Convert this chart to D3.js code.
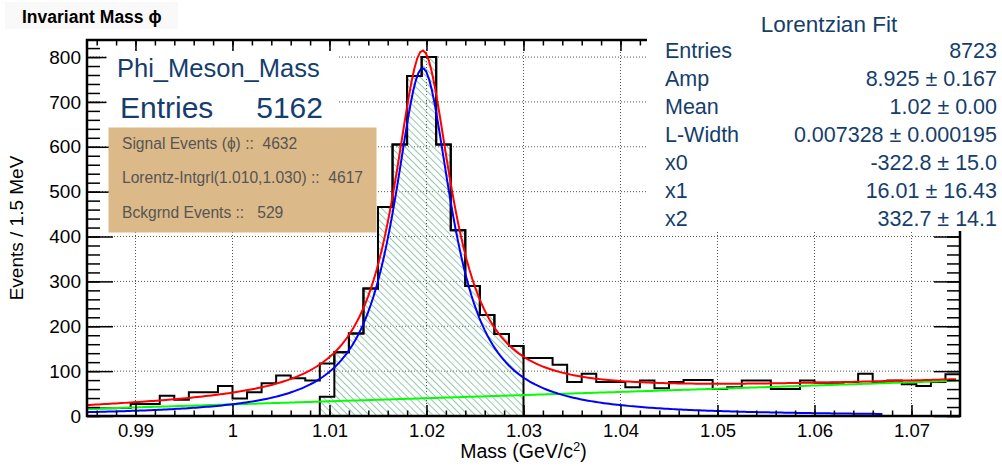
<!DOCTYPE html>
<html>
<head>
<meta charset="utf-8">
<script src="https://cdn.jsdelivr.net/npm/d3@7"></script>
<style>
  body { margin: 0; background: #fff; }
  text { font-family: "Liberation Sans", Arial, Helvetica, sans-serif; white-space: pre; }
</style>
</head>
<body>
<svg id="chart" width="1002" height="466"></svg>
<script>
// ---- histogram: 60 bins of 1.5 MeV from 0.985 to 1.075 GeV/c^2 ----
const binLow = 0.985;
const binWidth = 0.0015;
const counts = [
  17, 17, 18, 27, 27, 45, 36, 53, 53, 67,
  39, 53, 73, 90, 84, 79, 117, 142, 184, 284,
  466, 605, 758, 800, 605, 414, 290, 225, 183, 156,
  129, 129, 114, 76, 94, 76, 76, 64, 79, 62,
  76, 80, 80, 60, 64, 79, 79, 60, 60, 79,
  74, 74, 76, 94, 76, 79, 71, 67, 76, 93
];
// signal window histogram (hatched), starting at bin 16
const signalFirstBin = 16;
const signalCounts = [43, 142, 184, 284, 466, 605, 758, 800, 605, 414, 290, 225, 183, 156];

// ---- fit: Lorentzian (Breit-Wigner) + 2nd order polynomial background ----
const fitAmp = 8.925;
const fitMean = 1.0196;
const fitWidth = 0.007328;
const bgCoeffs = [-322.8, 16.01, 332.7];
const signalCurveEnd = 1.067;

// ---- axes ----
const xDomain = [0.985, 1.075];
const yDomain = [0, 838];
const xTicks = [0.99, 1.00, 1.01, 1.02, 1.03, 1.04, 1.05, 1.06, 1.07];
const xTickLabels = ["0.99", "1", "1.01", "1.02", "1.03", "1.04", "1.05", "1.06", "1.07"];
const yTicks = [0, 100, 200, 300, 400, 500, 600, 700, 800];
const yTickLabels = ["0", "100", "200", "300", "400", "500", "600", "700", "800"];

// ---- text panels ----
const titleText = "Invariant Mass \u03D5";
const histName = "Phi_Meson_Mass";
const histEntries = "5162";
const infoLines = [
  "Signal Events (\u03D5) ::  4632",
  "Lorentz-Intgrl(1.010,1.030) ::  4617",
  "Bckgrnd Events ::   529"
];
const statsTitle = "Lorentzian Fit";
const statsLabels = ["Entries", "Amp", "Mean", "L-Width", "x0", "x1", "x2"];
const statsValues = ["8723", "8.925 \u00B1 0.167", "1.02 \u00B1 0.00", "0.007328 \u00B1 0.000195",
                     "-322.8 \u00B1 15.0", "16.01 \u00B1 16.43", "332.7 \u00B1 14.1"];

const svg = d3.select("#chart");
const x = d3.scaleLinear().domain(xDomain).range([87, 960]);
const y = d3.scaleLinear().domain(yDomain).range([416, 40]);
const [xl, xr] = x.range();
const [yb, yt] = y.range();

// hatch pattern for the signal window
const defs = svg.append("defs");
defs.append("pattern")
  .attr("id", "hatch")
  .attr("patternUnits", "userSpaceOnUse")
  .attr("width", 5).attr("height", 5)
  .attr("patternTransform", "rotate(-45)")
  .append("line")
  .attr("x1", 2.5).attr("x2", 2.5).attr("y1", 0).attr("y2", 5)
  .attr("stroke", "#94c9b0").attr("stroke-width", 1);

// grid
const grid = svg.append("g")
  .attr("stroke", "#555").attr("stroke-width", 1).attr("stroke-dasharray", "1,2");
grid.selectAll("line.gx").data(xTicks).join("line").attr("class", "gx")
  .attr("x1", d => x(d)).attr("x2", d => x(d)).attr("y1", yt).attr("y2", yb);
grid.selectAll("line.gy").data(yTicks.filter(d => d > 0)).join("line").attr("class", "gy")
  .attr("x1", xl).attr("x2", xr).attr("y1", d => y(d)).attr("y2", d => y(d));

// signal window histogram
const sigPts = [[binLow + signalFirstBin * binWidth, 0]];
signalCounts.forEach((c, i) => sigPts.push([binLow + (signalFirstBin + i) * binWidth, c]));
const sigEnd = binLow + (signalFirstBin + signalCounts.length) * binWidth;
sigPts.push([sigEnd, signalCounts[signalCounts.length - 1]]);
sigPts.push([sigEnd, 0]);
const stepLine = d3.line().x(d => x(d[0])).y(d => y(d[1])).curve(d3.curveStepAfter);
svg.append("path").attr("d", stepLine(sigPts) + "Z")
  .attr("fill", "url(#hatch)").attr("stroke", "none");
svg.append("path").attr("d", stepLine(sigPts))
  .attr("fill", "none").attr("stroke", "#000").attr("stroke-width", 2);

// full histogram
const histPts = counts.map((c, i) => [binLow + i * binWidth, c]);
histPts.push([binLow + counts.length * binWidth, counts[counts.length - 1]]);
svg.append("path").attr("d", stepLine(histPts))
  .attr("fill", "none").attr("stroke", "#000").attr("stroke-width", 2);

// fit curves
const lorentz = m => fitAmp * (fitWidth / (2 * Math.PI)) /
  ((m - fitMean) * (m - fitMean) + fitWidth * fitWidth / 4);
const bg = m => bgCoeffs[0] + bgCoeffs[1] * m + bgCoeffs[2] * m * m;
const sample = (lo, hi, f) => d3.range(0, 301).map(i => {
  const m = lo + (hi - lo) * i / 300;
  return [m, f(m)];
});
const curve = d3.line().x(d => x(d[0])).y(d => y(d[1]));
svg.append("path").attr("d", curve(sample(xDomain[0], xDomain[1], bg)))
  .attr("fill", "none").attr("stroke", "#00ff00").attr("stroke-width", 2);
svg.append("path").attr("d", curve(sample(xDomain[0], signalCurveEnd, lorentz)))
  .attr("fill", "none").attr("stroke", "#0000ff").attr("stroke-width", 2);
svg.append("path").attr("d", curve(sample(xDomain[0], xDomain[1] - 0.0004, m => lorentz(m) + bg(m))))
  .attr("fill", "none").attr("stroke", "#ff0000").attr("stroke-width", 2);

// axes (ticks pointing inward)
const xMinor = d3.range(0, 46).map(i => 0.986 + i * 0.002).filter(v => v < 1.075);
const yMinor = d3.range(0, 42).map(i => i * 20);
function styleAxis(g) {
  g.select(".domain").remove();
  g.selectAll(".tick line").attr("stroke", "#000").attr("stroke-width", 1.5);
}
const axB = svg.append("g").attr("transform", `translate(0,${yb})`)
  .call(d3.axisBottom(x).tickValues(xTicks).tickSizeInner(-11).tickSizeOuter(0).tickPadding(8)
    .tickFormat((d, i) => xTickLabels[i]));
styleAxis(axB);
axB.selectAll("text").attr("font-size", 18.5).attr("fill", "#000");
styleAxis(svg.append("g").attr("transform", `translate(0,${yb})`)
  .call(d3.axisBottom(x).tickValues(xMinor).tickSizeInner(-5.5).tickSizeOuter(0).tickFormat("")));
styleAxis(svg.append("g").attr("transform", `translate(0,${yt})`)
  .call(d3.axisTop(x).tickValues(xTicks).tickSizeInner(-11).tickSizeOuter(0).tickFormat("")));
styleAxis(svg.append("g").attr("transform", `translate(0,${yt})`)
  .call(d3.axisTop(x).tickValues(xMinor).tickSizeInner(-5.5).tickSizeOuter(0).tickFormat("")));
const axL = svg.append("g").attr("transform", `translate(${xl},0)`)
  .call(d3.axisLeft(y).tickValues(yTicks).tickSizeInner(-26).tickSizeOuter(0).tickPadding(6)
    .tickFormat((d, i) => yTickLabels[i]));
styleAxis(axL);
axL.selectAll("text").attr("font-size", 19).attr("fill", "#000");
styleAxis(svg.append("g").attr("transform", `translate(${xl},0)`)
  .call(d3.axisLeft(y).tickValues(yMinor).tickSizeInner(-13).tickSizeOuter(0).tickFormat("")));
styleAxis(svg.append("g").attr("transform", `translate(${xr},0)`)
  .call(d3.axisRight(y).tickValues(yTicks).tickSizeInner(-26).tickSizeOuter(0).tickFormat("")));
styleAxis(svg.append("g").attr("transform", `translate(${xr},0)`)
  .call(d3.axisRight(y).tickValues(yMinor).tickSizeInner(-13).tickSizeOuter(0).tickFormat("")));

// frame
svg.append("rect").attr("x", xl).attr("y", yt).attr("width", xr - xl).attr("height", yb - yt)
  .attr("fill", "none").attr("stroke", "#000").attr("stroke-width", 2.5);

// axis titles
svg.append("text").attr("x", (xl + xr) / 2).attr("y", 458).attr("text-anchor", "middle")
  .attr("font-size", 19.5)
  .call(t => {
    t.append("tspan").text("Mass (GeV/c");
    t.append("tspan").attr("font-size", 13).attr("dy", -7).text("2");
    t.append("tspan").attr("dy", 7).text(")");
  });
svg.append("text").attr("transform", `translate(23,${(yt + yb) / 2}) rotate(-90)`)
  .attr("text-anchor", "middle").attr("font-size", 19).text("Events / 1.5 MeV");

// histogram name / entries panel
svg.append("rect").attr("x", 106.5).attr("y", 52).attr("width", 231).attr("height", 76).attr("fill", "#fff");
svg.append("text").attr("x", 117).attr("y", 77).attr("font-size", 25.5).attr("fill", "#153e6c").text(histName);
svg.append("text").attr("x", 120).attr("y", 118).attr("font-size", 30).attr("fill", "#153e6c").text("Entries");
svg.append("text").attr("x", 323).attr("y", 118).attr("font-size", 30).attr("fill", "#153e6c")
  .attr("text-anchor", "end").text(histEntries);

// event counts panel
svg.append("rect").attr("x", 108.5).attr("y", 127.5).attr("width", 268).attr("height", 105).attr("fill", "#dcb988");
svg.selectAll("text.info").data(infoLines).join("text").attr("class", "info")
  .attr("x", 122).attr("y", (d, i) => 148.5 + i * 34.8)
  .attr("font-size", 15.6).attr("fill", "#555").text(d => d);

// fit statistics panel
svg.append("rect").attr("x", 647).attr("y", 0).attr("width", 355).attr("height", 231).attr("fill", "#fff");
svg.append("text").attr("x", 829).attr("y", 31.5).attr("text-anchor", "middle")
  .attr("font-size", 22.5).attr("fill", "#153e6c").text(statsTitle);
svg.selectAll("text.slab").data(statsLabels).join("text").attr("class", "slab")
  .attr("x", 665).attr("y", (d, i) => 58.3 + i * 28)
  .attr("font-size", 21.5).attr("fill", "#153e6c").text(d => d);
svg.selectAll("text.sval").data(statsValues).join("text").attr("class", "sval")
  .attr("x", 997).attr("y", (d, i) => 58.3 + i * 28).attr("text-anchor", "end")
  .attr("font-size", 21.5).attr("fill", "#153e6c").text(d => d);

// title
svg.append("rect").attr("x", 5).attr("y", 2).attr("width", 173).attr("height", 27).attr("fill", "#f9f9f9");
svg.append("text").attr("x", 22).attr("y", 23).attr("font-size", 17.5).attr("font-weight", "bold")
  .text(titleText);
</script>
</body>
</html>
